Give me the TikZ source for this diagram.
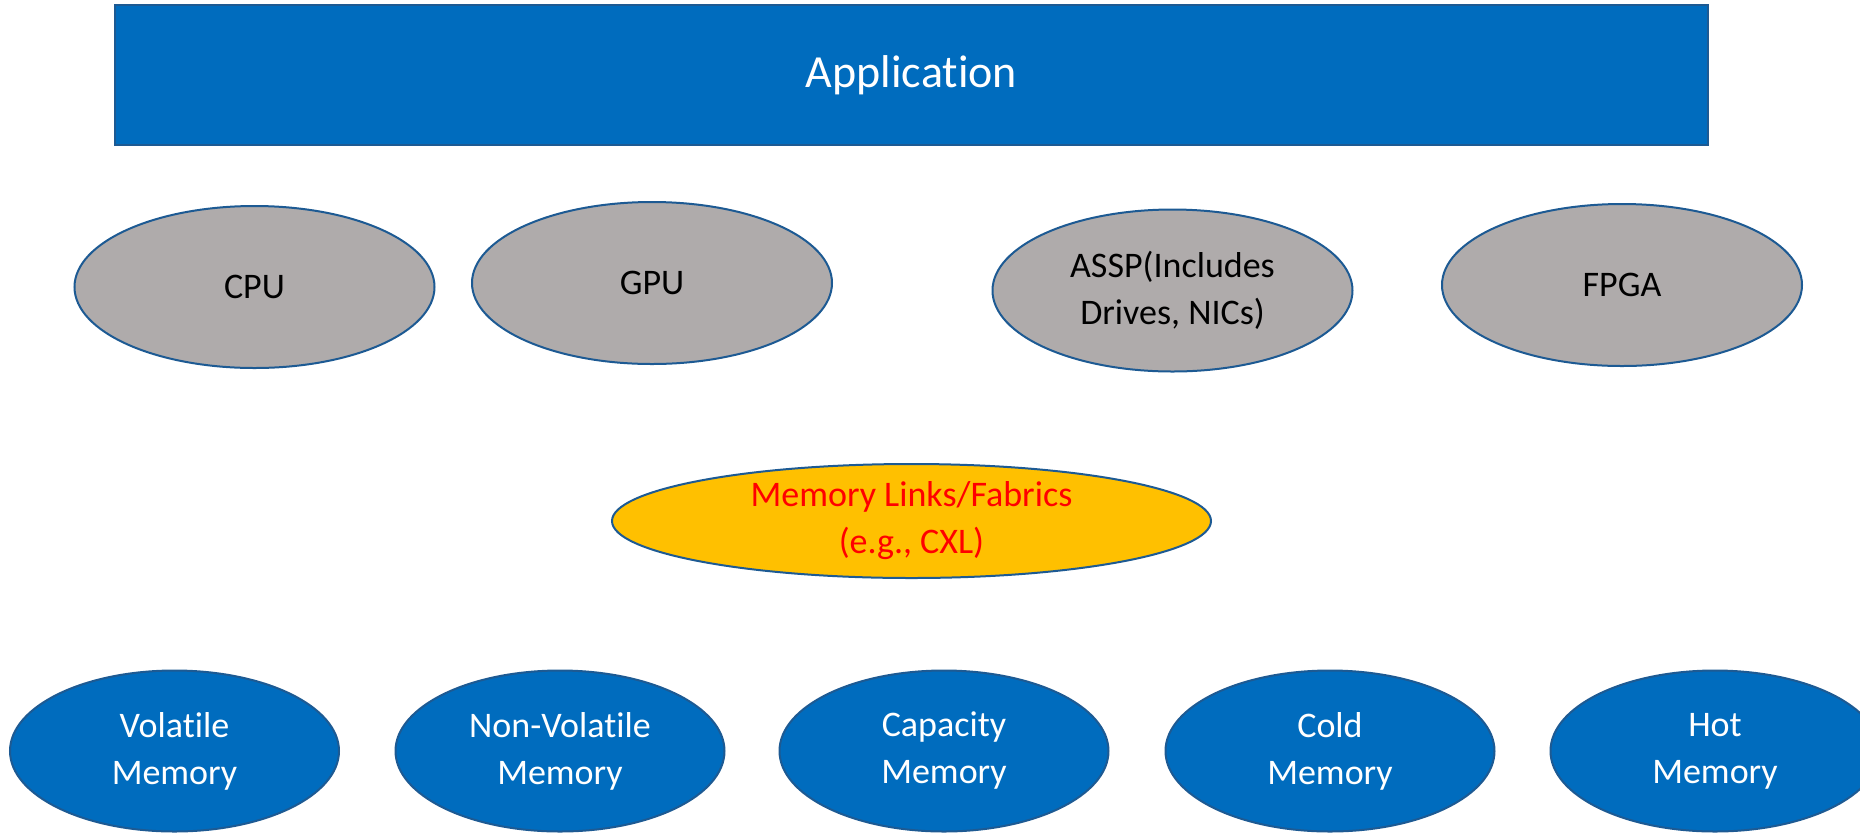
\documentclass[tikz,border=0pt]{standalone}
\usepackage{fontspec}
\setmainfont{Carlito}[Ligatures=NoCommon]
\usetikzlibrary{shapes.geometric}

\definecolor{appblue}{HTML}{006CBE}
\definecolor{edgeblue}{HTML}{1D5A93}
\definecolor{unitgrey}{HTML}{AFABAB}
\definecolor{fabricgold}{HTML}{FFC000}
\definecolor{fabricred}{HTML}{FF0000}

% one drawing unit is half a point; sizes below are given in points
\tikzset{
  oval/.style={ellipse, draw=edgeblue, line width=1pt, inner sep=0pt,
    minimum width=180pt, minimum height=81pt, align=center,
    font=\fontsize{18}{23.5}\selectfont},
  unit/.style={oval, fill=unitgrey, text=black},
  memory/.style={oval, fill=appblue, text=white, minimum width=164.5pt, minimum height=80.5pt},
  fabric/.style={oval, fill=fabricgold, text=fabricred, minimum width=299.5pt, minimum height=57pt},
  appbar/.style={draw=edgeblue, fill=appblue, line width=1pt, text=white,
    minimum width=796.5pt, minimum height=70pt, inner sep=0pt,
    font=\fontsize{23}{28}\selectfont}
}

\begin{document}
\begin{tikzpicture}[x=0.5pt, y=-0.5pt]
  \useasboundingbox (0,0) rectangle (1860,832);
  \clip (0,0) rectangle (1860,832);

  % application layer
  \node[appbar] (app) at (911.5,75) {Application};

  % compute units
  \node[unit] (cpu)  at (254.5,287) {CPU};
  \node[unit] (gpu)  at (652,283)   {GPU};
  \node[unit] (assp) at (1172.5,290.5) {ASSP(Includes\\Drives, NICs)};
  \node[unit] (fpga) at (1622,285)  {FPGA};

  % interconnect
  \node[fabric] (fabric) at (911.5,521) {Memory Links/Fabrics\\(e.g., CXL)};

  % memory tiers
  \node[memory] (volatile)    at (174.5,751) {Volatile\\Memory};
  \node[memory] (nonvolatile) at (560,751)   {Non-Volatile\\Memory};
  \node[memory] (capacity)    at (944,751)   {Capacity\\Memory};
  \node[memory] (cold)        at (1330,751)  {Cold\\Memory};
  \node[memory] (hot)         at (1715,751)  {Hot\\Memory};
\end{tikzpicture}
\end{document}
